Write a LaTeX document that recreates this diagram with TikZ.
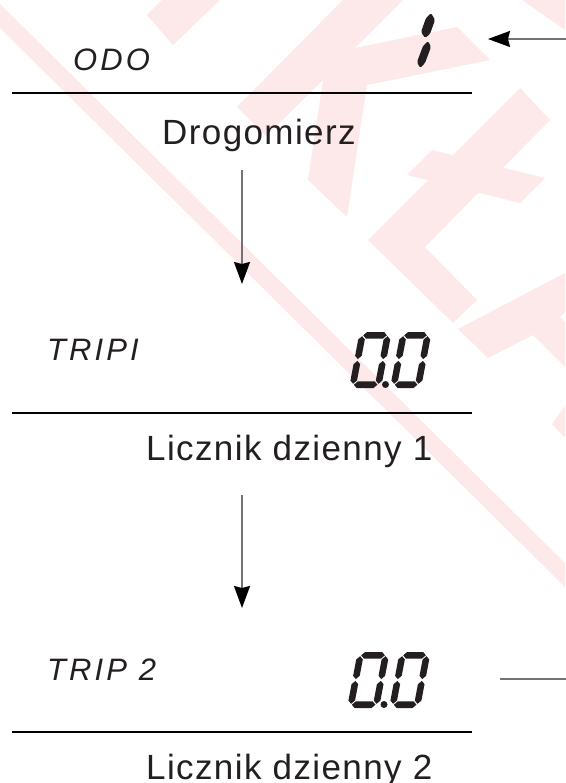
\documentclass[tikz,border=0pt]{standalone}
\usepackage{fontspec}
\setmainfont{Liberation Sans}
\newfontfamily\labfont[LetterSpace=10]{Liberation Sans}
\newfontfamily\capfont[LetterSpace=4]{Liberation Sans}
\usetikzlibrary{arrows.meta}
\definecolor{wm}{RGB}{253,232,234}
\definecolor{ink}{RGB}{35,31,32}
\definecolor{stemgray}{RGB}{115,115,115}

\newcommand{\hsegm}[3]{\fill[ink] (#1,#3) -- (#1+3.3,#3+3.3) -- (#2-3.3,#3+3.3) -- (#2,#3) -- (#2-3.3,#3-3.3) -- (#1+3.3,#3-3.3) -- cycle;}
\newcommand{\vsegm}[3]{\fill[ink] (#1,#2) -- (#1+3.3,#2+3.3) -- (#1+3.3,#3-3.3) -- (#1,#3) -- (#1-3.3,#3-3.3) -- (#1-3.3,#2+3.3) -- cycle;}
% zero digit: #1 = left x at bottom, #2 = bottom y, #3 = width
\newcommand{\zerodigit}[3]{%
  \begin{scope}[shift={(#1,#2)}, xslant=0.19, yscale=-1]
    \hsegm{4.2}{#3-4.2}{52.7}
    \hsegm{4.2}{#3-4.2}{3.3}
    \vsegm{3.3}{28.9}{51.8}
    \vsegm{3.3}{4.2}{27.1}
    \vsegm{#3-3.3}{28.9}{51.8}
    \vsegm{#3-3.3}{4.2}{27.1}
  \end{scope}}

\tikzset{
  rule/.style={line width=2.6pt, black},
  stemline/.style={line width=1.8pt, stemgray},
  headarrow/.style={stemline, -{Stealth[length=22pt,width=16pt,inset=2pt,black]}},
  modelabel/.style={anchor=base west, inner sep=0pt, text=ink, font=\labfont\itshape\fontsize{31}{36}\selectfont},
  caption/.style={anchor=base west, inner sep=0pt, text=ink, font=\capfont\fontsize{35}{40}\selectfont},
  wmark/.style={fill=wm, draw=none}
}

\begin{document}
\begin{tikzpicture}[x=1pt, y=-1pt]
\useasboundingbox (0,0) rectangle (565,783);
\begin{scope}
\clip (0,0) rectangle (565,783);
% watermark
\path[wmark] (0,4) -- (0,28) -- (565,587) -- (565,563) -- cycle;
\path[wmark] (147,15) -- (162,0) -- (220,0) -- (173,45) -- cycle;
\path[wmark] (237,107) -- (343,0) -- (403,0) -- (355,48) -- (457,27) -- (490,60) -- (367,85) -- (347,217) -- (308,180) -- (323,80) -- (266,136) -- cycle;
\path[wmark] (520,88) -- (550,120) -- (425,247) -- (477,300) -- (453,323) -- (368,240) -- cycle;
\path[wmark] (407,175) -- (432,150) -- (545,178) -- (520,203) -- cycle;
\path[wmark] (458,329) -- (565,273) -- (565,312) -- (560,317) -- (565,322) -- (565,367) -- (533,335) -- (488,358) -- cycle;
\path[wmark] (552,424) -- (565,406) -- (565,438) -- cycle;
\path[wmark] (522,0) -- (565,0) -- (565,30) -- cycle;
\end{scope}

% ODO row
\node[modelabel] (odo) at (73,71) {ODO};
\fill[ink, rounded corners=1.5pt] (431,13) -- (435,20) -- (430,34) -- (425,38) -- (421,32) -- (426,18) -- cycle;
\fill[ink, rounded corners=1.5pt] (428,41) -- (431,47) -- (425,63) -- (420,68) -- (417,62) -- (423,46) -- cycle;
\coordinate (odoin) at (566,39);
\coordinate (odotip) at (488,39);
\draw[headarrow] (odoin) -- (odotip);
\coordinate (r1a) at (12,93);
\coordinate (r1b) at (472,93);
\draw[rule] (r1a) -- (r1b);
\node[caption] (drogo) at (162,145) {Drogomierz};

% arrow 1
\coordinate (a1s) at (242,170);
\coordinate (a1e) at (242,284);
\draw[headarrow] (a1s) -- (a1e);

% TRIP I row
\node[modelabel] (trip1) at (47,360) {TRIPI};
\zerodigit{349}{388}{32}
\fill[ink] (385.5,384.5) circle (3.5pt);
\zerodigit{390}{388}{31}
\coordinate (r2a) at (12,413);
\coordinate (r2b) at (472,413);
\draw[rule] (r2a) -- (r2b);
\node[caption] (lic1) at (146,460) {Licznik dzienny 1};

% arrow 2
\coordinate (a2s) at (242,495);
\coordinate (a2e) at (242,608);
\draw[headarrow] (a2s) -- (a2e);

% TRIP 2 row
\node[modelabel] (trip2) at (47,680) {TRIP 2};
\zerodigit{347}{708}{32}
\fill[ink] (384,704.5) circle (3.5pt);
\zerodigit{389}{708}{31}
\coordinate (t2a) at (500,679);
\coordinate (t2b) at (566,679);
\draw[stemline, line width=2.2pt] (t2a) -- (t2b);
\coordinate (r3a) at (12,732);
\coordinate (r3b) at (472,732);
\draw[rule] (r3a) -- (r3b);
\node[caption] (lic2) at (146,779) {Licznik dzienny 2};
\end{tikzpicture}
\end{document}
